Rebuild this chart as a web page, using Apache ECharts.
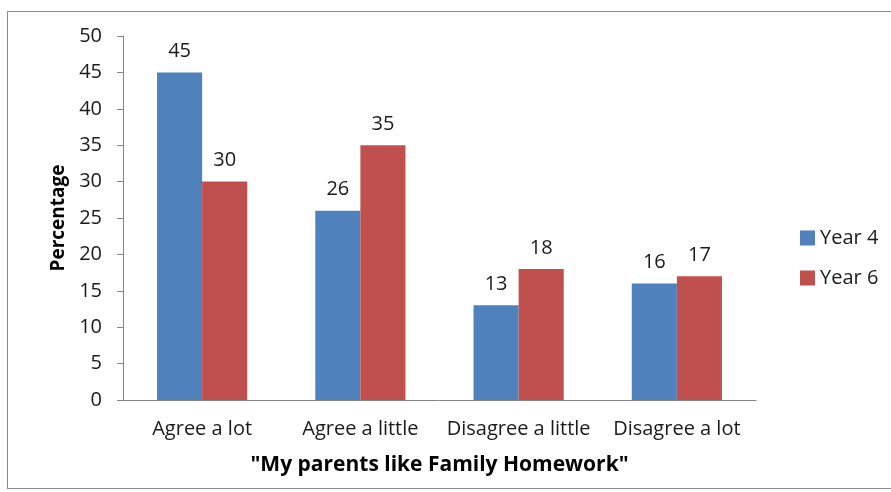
<!DOCTYPE html>
<html>
<head>
<meta charset="utf-8">
<script src="https://cdn.jsdelivr.net/npm/echarts@6/dist/echarts.min.js"></script>
<style>
  * { margin: 0; padding: 0; }
  body { background: #fff; }
  #frame {
    position: absolute; left: 7px; top: 11px; width: 900px; height: 478px;
    border: 1px solid #8c8c8c; box-sizing: border-box;
  }
  #chart { position: absolute; left: 0; top: 0; width: 891px; height: 492px; }
</style>
</head>
<body>
<div id="frame"></div>
<div id="chart"></div>
<script>
var categories = ["Agree a lot", "Agree a little", "Disagree a little", "Disagree a lot"];
var year4 = [45, 26, 13, 16];
var year6 = [30, 35, 18, 17];
var seriesNames = ["Year 4", "Year 6"];

var font = "'Open Sans', 'Liberation Sans', sans-serif";
var chart = echarts.init(document.getElementById("chart"));
chart.setOption({
  animation: false,
  textStyle: { fontFamily: font },
  grid: { left: 123, right: 135, top: 36, bottom: 92 },
  legend: {
    orient: "vertical",
    left: 795,
    top: 223,
    itemWidth: 15,
    itemHeight: 15,
    itemGap: 20,
    icon: "rect",
    textStyle: { fontSize: 20, lineHeight: 20, color: "#1a1a1a", fontFamily: font },
    data: seriesNames
  },
  xAxis: {
    type: "category",
    data: categories,
    name: "\"My parents like Family Homework\"",
    nameLocation: "middle",
    nameGap: 55,
    nameTextStyle: { fontSize: 21, fontWeight: "bold", color: "#000", fontFamily: font },
    axisLine: { lineStyle: { color: "#868686" } },
    axisTick: { length: 6, lineStyle: { color: "#868686" } },
    axisLabel: { interval: 0, fontSize: 20, color: "#1a1a1a", margin: 19, fontFamily: font }
  },
  yAxis: {
    type: "value",
    min: 0,
    max: 50,
    interval: 5,
    name: "Percentage",
    nameLocation: "middle",
    nameGap: 54,
    nameTextStyle: { fontSize: 19, fontWeight: "bold", color: "#000", fontFamily: font },
    axisLine: { show: true, lineStyle: { color: "#868686" } },
    axisTick: { show: true, length: 6, lineStyle: { color: "#868686" } },
    axisLabel: { fontSize: 20, color: "#1a1a1a", margin: 21, fontFamily: font },
    splitLine: { show: false }
  },
  series: [
    {
      name: seriesNames[0],
      type: "bar",
      data: year4,
      barGap: "0%",
      barCategoryGap: "43%",
      itemStyle: { color: "#4F81BD" },
      label: { show: true, position: "top", distance: 11, fontSize: 20, color: "#1a1a1a", fontFamily: font }
    },
    {
      name: seriesNames[1],
      type: "bar",
      data: year6,
      itemStyle: { color: "#C0504D" },
      label: { show: true, position: "top", distance: 11, fontSize: 20, color: "#1a1a1a", fontFamily: font }
    }
  ]
});
</script>
</body>
</html>
